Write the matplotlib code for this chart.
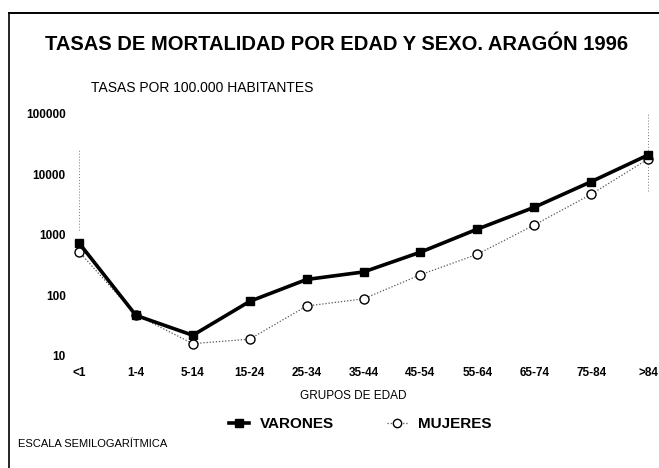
import matplotlib
matplotlib.use("Agg")
import matplotlib.pyplot as plt
from matplotlib.lines import Line2D

plt.rcParams['font.family'] = ['Liberation Sans', 'DejaVu Sans']

# grupos de edad
grupos = ["<1", "1-4", "5-14", "15-24", "25-34", "35-44", "45-54", "55-64", "65-74", "75-84", ">84"]
# tasas por 100.000 habitantes
varones = [740, 47, 22, 80, 184, 245, 520, 1250, 2870, 7600, 21000]
mujeres = [530, 48, 16, 19, 67, 88, 220, 480, 1460, 4700, 18000]
yticks = [10, 100, 1000, 10000, 100000]

W, H = 659, 468
fig = plt.figure(figsize=(W / 100, H / 100), dpi=100)

# ejes: <1 en x=79px, >84 en x=648px ; 10 en y=356px, 100000 en y=114px
unit = (648 - 79) / 10
x0 = 79 - 0.5 * unit
x1 = 648 + 0.15 * unit
ax = fig.add_axes([x0 / W, 1 - 356 / H, (x1 - x0) / W, (356 - 114) / H])
ax.set_yscale("log")
ax.set_ylim(10, 100000)
ax.set_xlim(-0.5, 10.15)

xs = list(range(len(grupos)))
ax.plot(xs, mujeres, color="#555555", lw=0.9, ls=(0, (1, 1.5)), marker="o",
        ms=6.5, mfc="white", mec="black", mew=1.0, clip_on=False, zorder=3, label="MUJERES")
ax.plot(xs, varones, color="black", lw=2.6, marker="s", ms=6, mfc="black",
        mec="black", clip_on=False, zorder=4, label="VARONES")

# restos de lineas de rejilla punteadas
ax.axvline(0, ymin=0.52, ymax=0.85, color="#777777", lw=0.7, ls=(0, (1, 2)), zorder=1)
ax.axvline(10, ymin=0.68, ymax=1.0, color="#777777", lw=0.7, ls=(0, (1, 2)), zorder=1)

for s in ax.spines.values():
    s.set_visible(False)
ax.set_yticks(yticks)
ax.set_yticklabels([str(v) for v in yticks], fontsize=8.5, fontweight="bold")
ax.minorticks_off()
ax.set_xticks(xs)
ax.set_xticklabels(grupos, fontsize=8.5, fontweight="bold")
ax.tick_params(axis="y", length=0, pad=-11)
ax.tick_params(axis="x", length=0, pad=8)

ax.set_xlabel("GRUPOS DE EDAD", fontsize=8.5, labelpad=8)

fig.text(337 / W, 1 - 45 / H, "TASAS DE MORTALIDAD POR EDAD Y SEXO. ARAGÓN 1996",
         ha="center", va="center", fontsize=14.5, fontweight="bold")
fig.text(91 / W, 1 - 88 / H, "TASAS POR 100.000 HABITANTES", ha="left", va="center", fontsize=10)
fig.text(18 / W, 1 - 444 / H, "ESCALA SEMILOGARÍTMICA", ha="left", va="center", fontsize=8)

h1 = Line2D([], [], color="black", lw=2.6, marker="s", ms=6)
h2 = Line2D([], [], color="#555555", lw=0.9, ls=(0, (1, 1.5)), marker="o", ms=6,
            mfc="white", mec="black")
fig.legend([h1, h2], ["VARONES", "MUJERES"], loc="center", bbox_to_anchor=(360 / W, 1 - 424 / H),
           ncol=2, frameon=False, prop={"size": 11, "weight": "bold"},
           handlelength=1.3, columnspacing=3.5, handletextpad=0.7)

# marco del original (solo izquierda y arriba visibles)
fig.add_artist(Line2D([9 / W, 9 / W], [0, 1 - 13 / H], transform=fig.transFigure, color="black", lw=1.2))
fig.add_artist(Line2D([9 / W, 1], [1 - 13 / H, 1 - 13 / H], transform=fig.transFigure, color="black", lw=1.4))

fig.savefig("out.png", dpi=100)
